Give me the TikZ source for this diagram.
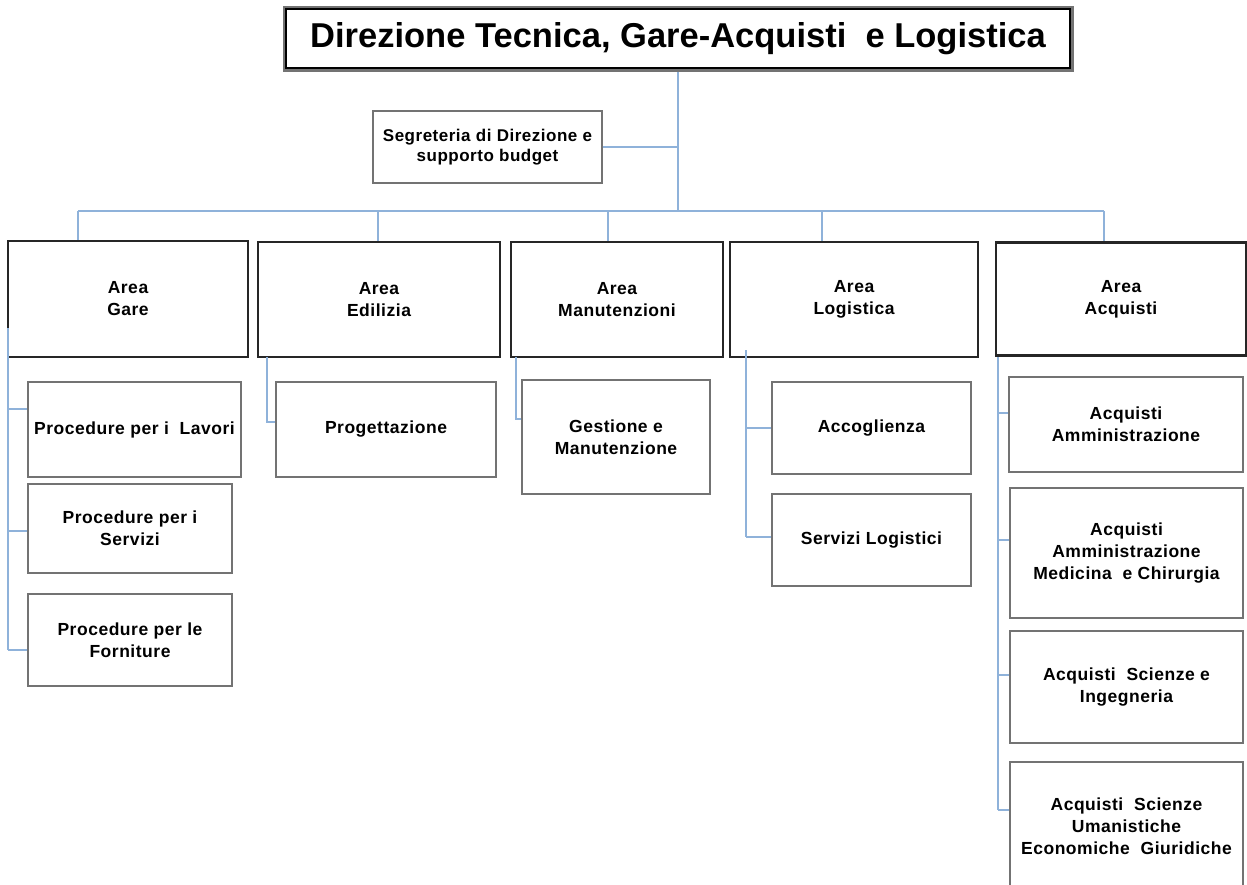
\documentclass[tikz,border=0pt]{standalone}
\usepackage{fontspec}
\setmainfont{Liberation Sans}
\newfontfamily\boxfamily[LetterSpace=3]{Liberation Sans}
\definecolor{linkblue}{RGB}{143,178,218}
\newcommand{\txtfont}{\boxfamily\bfseries\fontsize{17.5}{22}\selectfont}
\begin{document}
\begin{tikzpicture}[x=1pt,y=-1pt,
  conn/.style={draw=linkblue, line width=1.3pt},
  areabox/.style={draw=black!85, line width=2.8pt, fill=white, align=center, inner sep=0pt, font=\txtfont},
  subbox/.style={draw=black!55, line width=1.4pt, fill=white, align=center, inner sep=0pt, font=\txtfont},
  titlebox/.style={draw=black!55, line width=3pt, fill=white, align=center, inner sep=0pt, font=\bfseries\fontsize{34.5}{40}\selectfont}
]
\clip (0,0) rectangle (1247,884);
\fill[white] (0,0) rectangle (1247,884);

% title
\node[titlebox, minimum width=788pt, minimum height=63pt] (title) at (678,38.5) {Direzione Tecnica, Gare-Acquisti~ e Logistica};
\draw[black, line width=1.6pt] ([shift={(3.5,3.5)}]title.north west) rectangle ([shift={(-3.5,-3.5)}]title.south east);

% segreteria
\node[subbox, font=\boxfamily\bfseries\fontsize{17}{19.5}\selectfont, minimum width=229pt, minimum height=72pt] (seg) at (487.5,147) {Segreteria di Direzione e\\supporto budget};

% areas
\node[areabox, minimum width=240pt, minimum height=116pt] (gare) at (128,299) {Area\\Gare};
\node[areabox, minimum width=242pt, minimum height=115pt] (edil) at (379,299.5) {Area\\Edilizia};
\node[areabox, minimum width=212pt, minimum height=115pt] (manu) at (617,299.5) {Area\\Manutenzioni};
\node[areabox, minimum width=248pt, minimum height=115pt] (logi) at (854,299.5) {Area\\Logistica};
\node[areabox, minimum width=250pt, minimum height=113pt] (acq) at (1121,299) {Area\\Acquisti};

% sub boxes
\node[subbox, minimum width=213pt, minimum height=95pt] (lav) at (134.5,429.5) {Procedure per i~ Lavori};
\node[subbox, minimum width=204pt, minimum height=89pt] (serv) at (130,528.5) {Procedure per i\\Servizi};
\node[subbox, minimum width=204pt, minimum height=92pt] (forn) at (130,640) {Procedure per le\\Forniture};
\node[subbox, minimum width=220pt, minimum height=95pt] (prog) at (386,429.5) {Progettazione};
\node[subbox, minimum width=188pt, minimum height=114pt] (gest) at (616,437) {Gestione e\\Manutenzione};
\node[subbox, minimum width=199pt, minimum height=92pt] (acco) at (871.5,428) {Accoglienza};
\node[subbox, minimum width=199pt, minimum height=92pt] (slog) at (871.5,540) {Servizi Logistici};
\node[subbox, minimum width=234pt, minimum height=95pt] (aa) at (1126,424.5) {Acquisti\\Amministrazione};
\node[subbox, minimum width=233pt, minimum height=130pt] (amc) at (1126.5,553) {Acquisti\\Amministrazione\\Medicina~ e Chirurgia};
\node[subbox, minimum width=233pt, minimum height=112pt] (asi) at (1126.5,687) {Acquisti~ Scienze e\\Ingegneria};
\node[subbox, minimum width=233pt, minimum height=128pt] (asu) at (1126.5,826) {Acquisti~ Scienze\\Umanistiche\\Economiche~ Giuridiche};

% main connectors
\coordinate (top) at (678,211);
\draw[conn] (title.south) -- (top);
\draw[conn] (seg.east) -- (seg.east -| top);
\coordinate (bl) at (78,211);
\coordinate (be) at (378,211);
\coordinate (bm) at (608,211);
\coordinate (bg) at (822,211);
\coordinate (br) at (1104,211);
\draw[conn] (bl) -- (br);
\draw[conn] (bl) -- (bl |- gare.north);
\draw[conn] (be) -- (be |- edil.north);
\draw[conn] (bm) -- (bm |- manu.north);
\draw[conn] (bg) -- (bg |- logi.north);
\draw[conn] (br) -- (br |- acq.north);

% Gare
\coordinate (g0) at (8,328);
\coordinate (g1) at (8,409);
\coordinate (g2) at (8,531);
\coordinate (g3) at (8,650);
\draw[conn] (g0) -- (g3);
\draw[conn] (g1) -- (g1 -| lav.west);
\draw[conn] (g2) -- (g2 -| serv.west);
\draw[conn] (g3) -- (g3 -| forn.west);

% Edilizia
\coordinate (e0) at (267,357);
\coordinate (e1) at (267,422);
\draw[conn] (e0) -- (e1) -- (e1 -| prog.west);

% Manutenzioni
\coordinate (m0) at (516,357);
\coordinate (m1) at (516,419);
\draw[conn] (m0) -- (m1) -- (m1 -| gest.west);

% Logistica
\coordinate (l0) at (746,350);
\coordinate (l1) at (746,428);
\coordinate (l2) at (746,537);
\draw[conn] (l0) -- (l2);
\draw[conn] (l1) -- (l1 -| acco.west);
\draw[conn] (l2) -- (l2 -| slog.west);

% Acquisti
\coordinate (a0) at (998,357);
\coordinate (a1) at (998,413);
\coordinate (a2) at (998,540);
\coordinate (a3) at (998,675);
\coordinate (a4) at (998,810);
\draw[conn] (a0) -- (a4);
\draw[conn] (a1) -- (a1 -| aa.west);
\draw[conn] (a2) -- (a2 -| amc.west);
\draw[conn] (a3) -- (a3 -| asi.west);
\draw[conn] (a4) -- (a4 -| asu.west);
\end{tikzpicture}
\end{document}
